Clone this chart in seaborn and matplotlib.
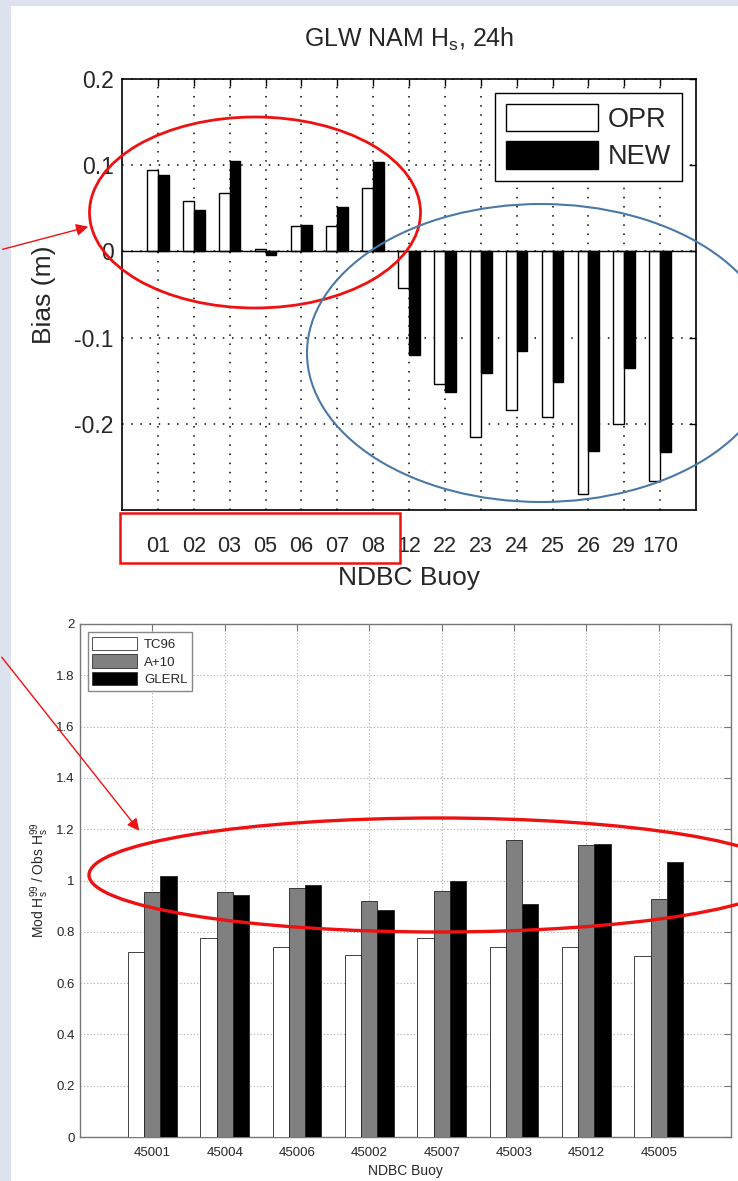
import matplotlib
matplotlib.use("Agg")
import matplotlib.pyplot as plt
import matplotlib.transforms as mtransforms
from matplotlib.patches import Ellipse, Rectangle, FancyArrowPatch, Patch
import seaborn as sns
import pandas as pd

# Top chart: GLW NAM Hs bias at 24h
buoys_top = ["01", "02", "03", "05", "06", "07", "08", "12", "22", "23", "24", "25", "26", "29", "170"]
opr = [0.094, 0.059, 0.068, 0.003, 0.029, 0.029, 0.074, -0.043, -0.154, -0.215,
       -0.184, -0.192, -0.281, -0.200, -0.266]
new = [0.089, 0.048, 0.105, -0.004, 0.031, 0.051, 0.104, -0.120, -0.163, -0.141,
       -0.115, -0.151, -0.232, -0.135, -0.233]
runs_top = ["OPR", "NEW"]

# Bottom chart: Mod Hs99 / Obs Hs99
buoys_bot = ["45001", "45004", "45006", "45002", "45007", "45003", "45012", "45005"]
tc96 = [0.722, 0.774, 0.742, 0.711, 0.774, 0.742, 0.739, 0.706]
a10 = [0.956, 0.956, 0.969, 0.920, 0.961, 1.159, 1.137, 0.928]
glerl = [1.017, 0.945, 0.983, 0.885, 0.998, 0.907, 1.141, 1.072]
runs_bot = ["TC96", "A+10", "GLERL"]

df_top = pd.DataFrame({
    "buoy": buoys_top * 2,
    "bias": opr + new,
    "run": ["OPR"] * len(buoys_top) + ["NEW"] * len(buoys_top),
})
df_bot = pd.DataFrame({
    "buoy": buoys_bot * 3,
    "ratio": tc96 + a10 + glerl,
    "run": ["TC96"] * len(buoys_bot) + ["A+10"] * len(buoys_bot) + ["GLERL"] * len(buoys_bot),
})

sns.set_style("white")
plt.rcParams["font.family"] = ["Liberation Sans", "DejaVu Sans"]
plt.rcParams["mathtext.fontset"] = "custom"
plt.rcParams["mathtext.rm"] = "Liberation Sans"
plt.rcParams["mathtext.it"] = "Liberation Sans"
plt.rcParams["axes.unicode_minus"] = False

W, H = 738, 1181
fig = plt.figure(figsize=(W / 100, H / 100), dpi=100, facecolor="#dce3ee")
px = mtransforms.Affine2D().scale(1 / W, -1 / H).translate(0, 1) + fig.transFigure

# white slide panel
fig.add_artist(Rectangle((11, 6), W, H, transform=px, facecolor="white",
                         edgecolor="none", zorder=-10))

def place(x0, y0, x1, y1):
    return [x0 / W, 1 - y1 / H, (x1 - x0) / W, (y1 - y0) / H]

# ---------------- top chart ----------------
ax1 = fig.add_axes(place(122, 79, 696, 510))
sns.barplot(data=df_top, x="buoy", y="bias", hue="run", order=buoys_top,
            hue_order=runs_top, palette={"OPR": "white", "NEW": "black"},
            edgecolor="black", linewidth=1.0, width=0.6, errorbar=None,
            legend=False, ax=ax1, zorder=3)
ax1.set_xlim(-1, len(buoys_top))
ax1.set_ylim(-0.3, 0.2)
ax1.set_yticks([0.2, 0.1, 0, -0.1, -0.2])
ax1.set_yticklabels(["0.2", "0.1", "0", "-0.1", "-0.2"])
ax1.axhline(0, color="black", lw=1.0, zorder=4)
ax1.set_axisbelow(True)
ax1.grid(True, color="black", linestyle=(0, (1, 5)), linewidth=1.1)
ax1.tick_params(axis="both", direction="in", top=True, right=True, length=5,
                width=1, color="black")
ax1.tick_params(axis="y", labelsize=16.5, pad=6)
ax1.tick_params(axis="x", labelsize=15.5, pad=19)
for sp in ax1.spines.values():
    sp.set_color("black")
    sp.set_linewidth(1.2)
ax1.set_title("GLW NAM H$_{\\rm s}$, 24h", fontsize=18, pad=23)
ax1.set_xlabel("NDBC Buoy", fontsize=19, labelpad=6)
ax1.set_ylabel("Bias (m)", fontsize=19)
ax1.yaxis.set_label_coords(-0.115, 0.5)
h_top = [Patch(facecolor="white", edgecolor="black", lw=1),
         Patch(facecolor="black", edgecolor="black", lw=1)]
leg1 = ax1.legend(h_top, runs_top, loc="upper right", bbox_to_anchor=(0.976, 0.968),
                  borderaxespad=0, fontsize=19.5, handlelength=3.4, handleheight=1.2,
                  handletextpad=0.37, labelspacing=0.3, fancybox=False, framealpha=1,
                  edgecolor="black", borderpad=0.4)
leg1.get_frame().set_linewidth(1.0)

# ---------------- bottom chart ----------------
ax2 = fig.add_axes(place(80, 624, 731, 1137))
sns.barplot(data=df_bot, x="buoy", y="ratio", hue="run", order=buoys_bot,
            hue_order=runs_bot,
            palette={"TC96": "white", "A+10": "#808080", "GLERL": "black"},
            edgecolor="#222222", linewidth=0.6, width=0.675, errorbar=None,
            legend=False, ax=ax2, zorder=3)
ax2.set_xlim(-1, len(buoys_bot))
ax2.set_ylim(0, 2)
ax2.set_yticks([0, 0.2, 0.4, 0.6, 0.8, 1.0, 1.2, 1.4, 1.6, 1.8, 2.0])
ax2.set_yticklabels(["0", "0.2", "0.4", "0.6", "0.8", "1", "1.2", "1.4", "1.6", "1.8", "2"])
ax2.set_axisbelow(True)
ax2.grid(True, color="#aaaaaa", linestyle=(0, (1, 2)), linewidth=0.8)
ax2.tick_params(axis="both", direction="in", top=True, right=True, length=5,
                width=0.8, color="#777777", labelsize=9.5)
ax2.tick_params(axis="y", pad=4)
ax2.tick_params(axis="x", pad=7)
for sp in ax2.spines.values():
    sp.set_color("#777777")
    sp.set_linewidth(1.0)
ax2.set_xlabel("NDBC Buoy", fontsize=10, labelpad=4)
ax2.set_ylabel("Mod H$_{\\rm s}^{99}$ / Obs H$_{\\rm s}^{99}$", fontsize=10)
ax2.yaxis.set_label_coords(-0.045, 0.5)
h_bot = [Patch(facecolor="white", edgecolor="#333333", lw=0.6),
         Patch(facecolor="#808080", edgecolor="#333333", lw=0.6),
         Patch(facecolor="black", edgecolor="#333333", lw=0.6)]
leg2 = ax2.legend(h_bot, runs_bot, loc="upper left", bbox_to_anchor=(0.012, 0.984),
                  borderaxespad=0, fontsize=9.5, handlelength=3.4, handleheight=1.2,
                  handletextpad=0.5, labelspacing=0.25, fancybox=False, framealpha=1,
                  edgecolor="#888888", borderpad=0.35)

# ---------------- slide annotations ----------------
red = "#ee1111"
fig.add_artist(Ellipse((255, 212.5), 331, 191, transform=px, fill=False,
                       edgecolor=red, lw=2.0, clip_on=False, zorder=10))
fig.add_artist(Ellipse((541, 353), 468, 298, transform=px, fill=False,
                       edgecolor="#4a79a8", lw=1.5, clip_on=False, zorder=10))
fig.add_artist(Rectangle((120, 513), 280, 50, transform=px, fill=False,
                         edgecolor=red, lw=1.8, clip_on=False, zorder=10))
fig.add_artist(Ellipse((438, 875), 698, 114, transform=px, fill=False,
                       edgecolor=red, lw=2.4, clip_on=False, zorder=10))
fig.add_artist(FancyArrowPatch((0, 250), (91, 226), transform=px,
                               arrowstyle="-|>", mutation_scale=18, color=red,
                               lw=1.0, zorder=10))
fig.add_artist(FancyArrowPatch((0, 655), (141, 833), transform=px,
                               arrowstyle="-|>", mutation_scale=18, color=red,
                               lw=1.0, zorder=10))

fig.savefig("out.png", dpi=100, facecolor=fig.get_facecolor())
